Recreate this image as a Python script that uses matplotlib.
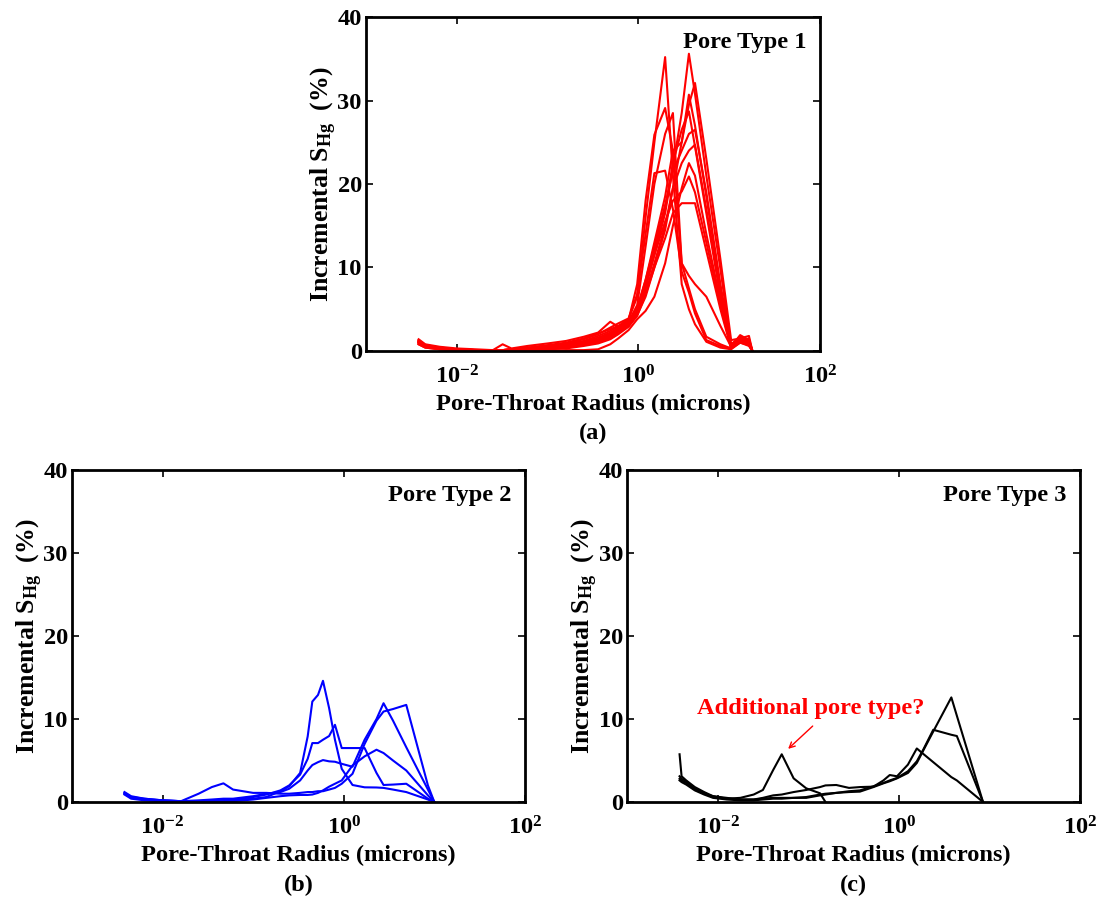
import numpy as np
import matplotlib
matplotlib.use("Agg")
import matplotlib.pyplot as plt
from matplotlib.ticker import NullLocator

plt.rcParams['font.family'] = ['Liberation Serif', 'DejaVu Serif']
plt.rcParams['font.weight'] = 'bold'
plt.rcParams['mathtext.fontset'] = 'custom'
plt.rcParams['mathtext.rm'] = 'Liberation Serif:bold'
plt.rcParams['mathtext.bf'] = 'Liberation Serif:bold'
plt.rcParams['mathtext.it'] = 'Liberation Serif:bold:italic'

FS = 17.6

# Pore type 1 samples (red), incremental saturation on a shared radius grid
red_radius = [0.0038, 0.0045, 0.0065, 0.010, 0.016, 0.025, 0.032, 0.040, 0.060, 0.10,
              0.16, 0.25, 0.36, 0.49, 0.60, 0.78, 0.97, 1.20, 1.50, 1.97,
              2.40, 3.00, 3.60, 4.20, 5.60, 8.00, 10.5, 13.2, 16.5, 18.0]
red_L1 = [1.4, 0.8, 0.5, 0.3, 0.2, 0.1, 0.1, 0.2, 0.4, 0.7, 1.0, 1.5, 2.1, 2.6, 3.0,
          3.8, 6.5, 16.0, 25.0, 35.2, 21.0, 8.0, 5.0, 3.2, 1.1, 0.4, 0.2, 1.0, 0.6, 0.0]
red_L2 = [1.2, 0.7, 0.4, 0.2, 0.1, 0.1, 0.8, 0.3, 0.6, 0.9, 1.2, 1.7, 2.2, 3.5, 2.9,
          3.7, 8.0, 18.0, 25.9, 29.1, 24.0, 10.5, 7.5, 5.0, 1.7, 0.8, 0.3, 1.5, 0.9, 0.0]
red_L3 = [1.0, 0.6, 0.3, 0.2, 0.1, 0.0, 0.1, 0.1, 0.3, 0.5, 0.8, 1.2, 1.8, 2.4, 2.9,
          3.5, 5.5, 12.5, 20.0, 26.0, 28.5, 10.5, 9.0, 8.0, 6.5, 3.0, 0.5, 1.2, 0.7, 0.0]
red_L4 = [1.1, 0.6, 0.4, 0.2, 0.1, 0.1, 0.1, 0.2, 0.4, 0.6, 0.9, 1.4, 2.0, 2.8, 3.3,
          3.9, 6.8, 14.0, 21.3, 21.6, 17.0, 9.5, 7.0, 4.5, 1.3, 0.6, 0.3, 1.6, 1.0, 0.0]
red_R1 = [1.3, 0.7, 0.4, 0.2, 0.1, 0.1, 0.1, 0.2, 0.3, 0.5, 0.8, 1.1, 1.6, 2.2, 2.7,
          3.3, 4.6, 7.5, 11.5, 16.5, 22.0, 28.5, 35.6, 30.8, 21.0, 9.8, 0.6, 1.8, 1.2, 0.0]
red_R2 = [1.2, 0.6, 0.3, 0.1, 0.1, 0.0, 0.1, 0.1, 0.2, 0.4, 0.6, 0.9, 1.3, 1.9, 2.4,
          3.1, 4.3, 6.5, 10.0, 14.5, 19.5, 25.0, 29.5, 32.1, 23.0, 11.0, 1.3, 1.5, 1.8, 0.0]
red_R3 = [1.0, 0.5, 0.3, 0.1, 0.0, 0.0, 0.0, 0.1, 0.2, 0.3, 0.5, 0.8, 1.1, 1.7, 2.3,
          3.2, 5.0, 8.5, 13.0, 18.5, 24.0, 25.0, 30.7, 27.0, 18.5, 7.5, 0.3, 1.4, 0.9, 0.0]
red_R4 = [1.1, 0.6, 0.3, 0.2, 0.1, 0.1, 0.1, 0.2, 0.3, 0.5, 0.7, 1.0, 1.4, 2.0, 2.6,
          3.4, 4.8, 7.8, 12.0, 17.0, 22.5, 26.5, 28.7, 24.5, 16.5, 6.5, 0.4, 1.1, 1.5, 0.0]
red_R5 = [0.9, 0.5, 0.2, 0.1, 0.0, 0.0, 0.0, 0.1, 0.1, 0.2, 0.4, 0.7, 1.0, 1.5, 2.1,
          3.0, 4.4, 7.0, 10.5, 15.0, 19.5, 22.5, 24.0, 24.7, 17.0, 7.0, 0.5, 1.9, 1.3, 0.0]
red_R6 = [1.0, 0.5, 0.3, 0.1, 0.1, 0.0, 0.1, 0.1, 0.2, 0.3, 0.5, 0.8, 1.2, 1.8, 2.5,
          3.3, 4.9, 8.0, 11.5, 15.5, 18.0, 19.1, 20.9, 19.0, 13.0, 5.5, 0.4, 1.3, 1.0, 0.0]
red_R7 = [0.8, 0.4, 0.2, 0.1, 0.0, 0.0, 0.0, 0.1, 0.1, 0.2, 0.3, 0.6, 0.9, 1.4, 2.0,
          2.9, 4.2, 6.8, 10.0, 13.5, 16.5, 17.7, 17.7, 17.7, 12.0, 5.0, 0.3, 1.0, 0.7, 0.0]
red_R8 = [1.2, 0.6, 0.3, 0.2, 0.1, 0.1, 0.1, 0.2, 0.3, 0.5, 0.7, 1.0, 1.4, 2.1, 2.7,
          3.5, 5.2, 8.5, 12.5, 17.5, 21.5, 24.0, 26.0, 26.5, 19.0, 8.0, 0.8, 1.7, 1.1, 0.0]
red_R9 = [0.8, 0.4, 0.2, 0.1, 0.0, 0.0, 0.0, 0.0, 0.0, 0.0, 0.1, 0.1, 0.2, 0.8, 1.5,
          2.5, 3.8, 4.8, 6.5, 10.5, 15.0, 19.5, 22.5, 21.0, 14.0, 6.0, 0.4, 1.2, 0.8, 0.0]
red_curves = [red_L1, red_L2, red_L3, red_L4, red_R1, red_R2, red_R3,
              red_R4, red_R5, red_R6, red_R7, red_R8, red_R9]

# Pore type 2 samples (blue)
blue_radius = [0.0038, 0.0045, 0.0063, 0.010, 0.016, 0.025, 0.035, 0.047, 0.060, 0.10,
               0.14, 0.20, 0.25, 0.33, 0.40, 0.45, 0.52, 0.59, 0.69, 0.80,
               0.95, 1.25, 1.70, 2.30, 2.75, 3.50, 4.90, 8.50, 10.0]
blue_B1 = [1.1, 0.6, 0.4, 0.2, 0.1, 0.0, 0.1, 0.1, 0.2, 0.4, 0.6, 1.3, 1.9, 3.5, 7.9,
           12.1, 12.9, 14.6, 11.3, 7.5, 4.0, 2.05, 1.77, 1.75, 1.7, 1.5, 1.2, 0.3, 0.0]
blue_B2 = [1.0, 0.5, 0.3, 0.1, 0.0, 0.1, 0.2, 0.3, 0.3, 0.6, 0.9, 1.4, 2.0, 3.3, 5.2,
           7.1, 7.1, 7.5, 7.95, 9.3, 6.5, 6.5, 6.5, 3.5, 2.05, 2.1, 2.2, 0.4, 0.0]
blue_B3 = [1.2, 0.7, 0.4, 0.2, 0.1, 0.2, 0.3, 0.4, 0.4, 0.7, 1.0, 1.2, 1.6, 2.6, 3.8,
           4.45, 4.8, 5.05, 4.9, 4.85, 4.6, 4.25, 7.5, 10.0, 11.9, 9.8, 6.6, 1.5, 0.0]
blue_B4 = [0.9, 0.4, 0.2, 0.1, 0.0, 0.0, 0.0, 0.1, 0.1, 0.3, 0.5, 0.7, 0.8, 0.85, 0.85,
           0.9, 1.1, 1.4, 1.85, 2.2, 2.6, 4.4, 5.5, 6.3, 5.9, 5.0, 3.8, 0.8, 0.0]
blue_B5 = [1.0, 0.6, 0.3, 0.2, 0.1, 1.0, 1.8, 2.25, 1.5, 1.1, 1.1, 1.0, 1.0, 1.1, 1.2,
           1.2, 1.3, 1.3, 1.5, 1.7, 2.2, 3.4, 7.0, 9.8, 10.9, 11.2, 11.7, 2.0, 0.0]
blue_curves = [blue_B1, blue_B2, blue_B3, blue_B4, blue_B5]

# Pore type 3 samples (black); C1 stops at 0.155 microns
black_radius = [0.0038, 0.0040, 0.0045, 0.0056, 0.0071, 0.0089, 0.0126, 0.0178, 0.025, 0.0316,
                0.041, 0.051, 0.069, 0.095, 0.135, 0.155, 0.204, 0.282, 0.372, 0.525,
                0.676, 0.794, 0.955, 1.26, 1.58, 1.86, 2.40, 3.80, 4.37, 8.50]
nan = np.nan
black_C1 = [5.75, 3.1, 2.6, 1.8, 1.2, 0.7, 0.4, 0.5, 0.9, 1.45, 3.85, 5.75, 2.85, 1.65, 1.05,
            0.0, nan, nan, nan, nan, nan, nan, nan, nan, nan, nan, nan, nan, nan, nan]
black_C2 = [3.1, 2.8, 2.5, 1.6, 1.1, 0.6, 0.4, 0.3, 0.3, 0.4, 0.5, 0.5, 0.5, 0.5, 0.8,
            0.9, 1.1, 1.2, 1.25, 1.8, 2.25, 2.5, 2.85, 3.5, 4.7, 6.2, 8.5, 12.6, 10.4, 0.0]
black_C3 = [2.6, 2.4, 2.1, 1.4, 0.9, 0.5, 0.3, 0.2, 0.2, 0.3, 0.4, 0.4, 0.5, 0.6, 0.9,
            1.0, 1.1, 1.3, 1.4, 1.9, 2.3, 2.6, 2.9, 3.7, 4.9, 6.3, 8.7, 8.1, 7.95, 0.0]
black_C4 = [2.8, 2.6, 2.3, 1.5, 1.0, 0.7, 0.5, 0.3, 0.3, 0.5, 0.8, 0.9, 1.2, 1.45, 1.8,
            2.0, 2.05, 1.7, 1.8, 1.85, 2.6, 3.25, 3.1, 4.5, 6.45, 5.8, 4.8, 3.0, 2.6, 0.0]
black_curves = [black_C1, black_C2, black_C3, black_C4]

x_ticks = [1e-2, 1e0, 1e2]
x_tick_labels = [r'$\mathbf{10^{-2}}$', r'$\mathbf{10^{0}}$', r'$\mathbf{10^{2}}$']
y_ticks = [0, 10, 20, 30, 40]


def style_axis(ax, title):
    # MATLAB-like boxed axis with inward ticks on every side
    ax.set_xscale('log')
    ax.set_xlim(1e-3, 1e2)
    ax.set_ylim(0, 40)
    ax.set_xticks(x_ticks)
    ax.set_xticklabels(x_tick_labels)
    ax.xaxis.set_minor_locator(NullLocator())
    ax.set_yticks(y_ticks)
    ax.set_yticklabels([str(v) for v in y_ticks])
    ax.tick_params(direction='in', length=5, width=1.2, top=True, right=True,
                   labelsize=FS)
    ax.tick_params(axis='x', pad=10)
    ax.tick_params(axis='y', pad=3)
    for spine in ax.spines.values():
        spine.set_linewidth(2)
    ax.set_xlabel('Pore-Throat Radius (microns)', fontsize=FS, fontweight='bold', labelpad=4)
    ax.set_ylabel(r'Incremental $\mathbf{S_{Hg}}$  (%)', fontsize=18.5,
                  fontweight='bold', labelpad=-1)
    ax.text(0.97, 0.955, title, transform=ax.transAxes, ha='right', va='top',
            fontsize=FS, fontweight='bold')


fig = plt.figure(figsize=(10.97, 9.05), dpi=100)
ax_a = fig.add_axes([0.3336, 0.6122, 0.4139, 0.3690])
ax_b = fig.add_axes([0.0656, 0.1138, 0.4129, 0.3669])
ax_c = fig.add_axes([0.5716, 0.1138, 0.4129, 0.3669])

for values in red_curves:
    ax_a.plot(red_radius, values, color='#ff0000', lw=1.5)
for values in blue_curves:
    ax_b.plot(blue_radius, values, color='#0000ff', lw=1.5)
for values in black_curves:
    ax_c.plot(black_radius, values, color='black', lw=1.5)

style_axis(ax_a, 'Pore Type 1')
style_axis(ax_b, 'Pore Type 2')
style_axis(ax_c, 'Pore Type 3')

ax_c.text(0.107, 11.3, 'Additional pore type?', ha='center', va='center',
          color='#ff0000', fontsize=FS, fontweight='bold')
ax_c.annotate('', xy=(0.060, 6.4), xytext=(0.112, 9.15),
              arrowprops=dict(arrowstyle='->', color='#ff0000', lw=1.0,
                              shrinkA=0, shrinkB=0))

fig.text(0.5405, 0.5215, '(a)', ha='center', va='center', fontsize=FS, fontweight='bold')
fig.text(0.2721, 0.0220, '(b)', ha='center', va='center', fontsize=FS, fontweight='bold')
fig.text(0.7780, 0.0220, '(c)', ha='center', va='center', fontsize=FS, fontweight='bold')

fig.savefig('out.png', dpi=100)
